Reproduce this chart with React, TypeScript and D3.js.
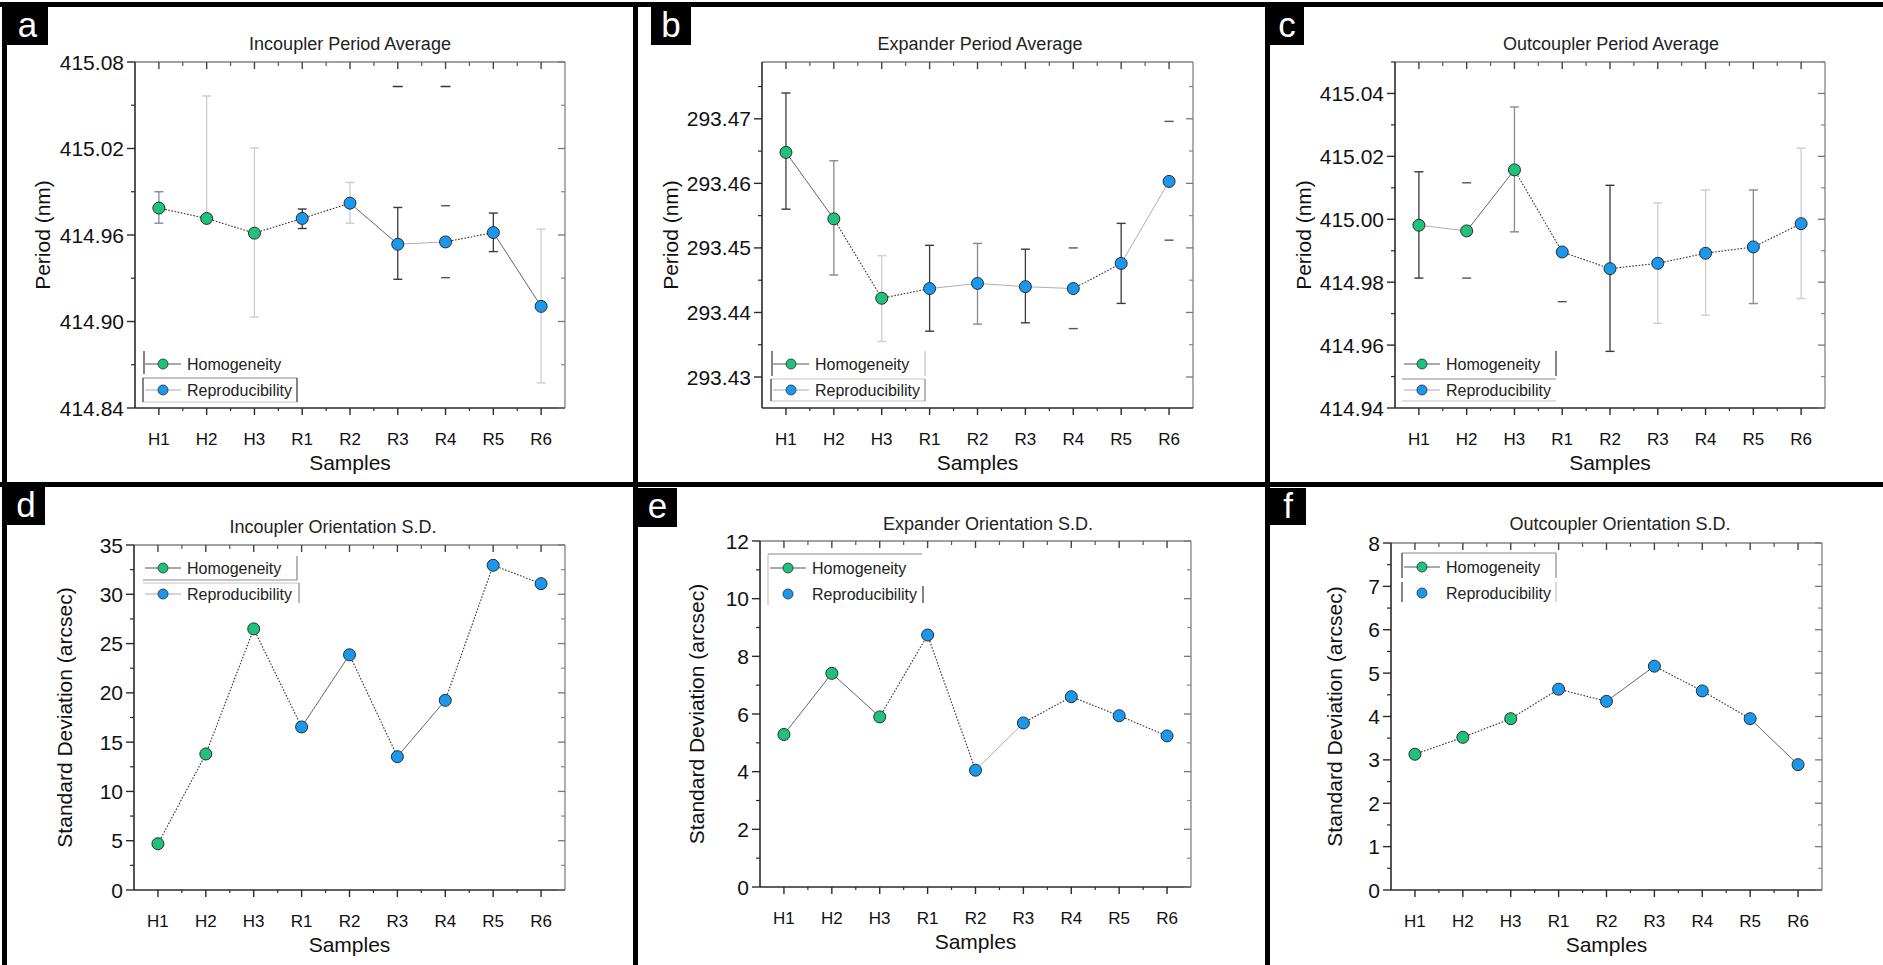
import * as d3 from "d3";
import React from "react";

// ---- data ----
const samples = ["H1", "H2", "H3", "R1", "R2", "R3", "R4", "R5", "R6"];
const groupOf = ["Homogeneity", "Homogeneity", "Homogeneity", "Reproducibility", "Reproducibility",
    "Reproducibility", "Reproducibility", "Reproducibility", "Reproducibility"];
const legendNames = ["Homogeneity", "Reproducibility"];

// a: incoupler period average (nm)
const incouplerPeriod = [414.9787, 414.9715, 414.9613, 414.9715, 414.9821, 414.9536, 414.9552, 414.9617, 414.9105];
const incouplerPeriodHi = [414.9900, 415.0564, 415.0204, 414.9780, 414.9965, 414.9791, 414.9803, 414.9752, 414.9641];
const incouplerPeriodLo = [414.9682, null, 414.9031, 414.9645, 414.9682, 414.9293, 414.9304, 414.9485, 414.8574];
const incouplerPeriodStray = [null, null, null, null, null, 415.063, 415.063, null, null];
const incouplerPeriodTicks = [414.84, 414.90, 414.96, 415.02, 415.08];

// b: expander period average (nm)
const expanderPeriod = [293.4648, 293.4545, 293.4422, 293.4437, 293.4445, 293.4440, 293.4437, 293.4476, 293.4603];
const expanderPeriodHi = [293.4740, 293.4635, 293.4488, 293.4504, 293.4507, 293.4498, 293.4500, 293.4538, 293.4696];
const expanderPeriodLo = [293.4560, 293.4458, 293.4355, 293.4371, 293.4382, 293.4384, 293.4375, 293.4414, 293.4512];
const expanderPeriodTicks = [293.43, 293.44, 293.45, 293.46, 293.47];

// c: outcoupler period average (nm)
const outcouplerPeriod = [414.9981, 414.9963, 415.0157, 414.9896, 414.9843, 414.9860, 414.9892, 414.9912, 414.9986];
const outcouplerPeriodHi = [415.0151, 415.0116, 415.0357, null, 415.0108, 415.0052, 415.0093, 415.0093, 415.0226];
const outcouplerPeriodLo = [414.9813, 414.9813, 414.9960, 414.9738, 414.9580, 414.9669, 414.9695, 414.9732, 414.9748];
const outcouplerPeriodTicks = [414.94, 414.96, 414.98, 415.00, 415.02, 415.04];

// d, e, f: orientation standard deviation (arcsec)
const incouplerSD = [4.69, 13.80, 26.49, 16.54, 23.86, 13.53, 19.24, 32.94, 31.08];
const incouplerSDTicks = [0, 5, 10, 15, 20, 25, 30, 35];
const expanderSD = [5.29, 7.41, 5.90, 8.74, 4.05, 5.69, 6.60, 5.94, 5.24];
const expanderSDTicks = [0, 2, 4, 6, 8, 10, 12];
const outcouplerSD = [3.13, 3.52, 3.95, 4.63, 4.35, 5.16, 4.59, 3.95, 2.89];
const outcouplerSDTicks = [0, 1, 2, 3, 4, 5, 6, 7, 8];

// ---- styles ----
const FONT = "'Liberation Sans', Arial, Helvetica, sans-serif";
const GREEN = "#1fc27c";
const BLUE = "#1a98ee";
const TONE: Record<string, string> = { dark: "#3a3a3a", mid: "#8a8a8a", light: "#cdcdcd", none: "none" };
const SEG: Record<string, { stroke: string; dash?: string; w: number }> = {
    d: { stroke: "#333", dash: "1.6,1.6", w: 1.1 },
    s: { stroke: "#555", w: 0.9 },
    l: { stroke: "#b0b0b0", w: 1 },
};

type Panel = {
    letter: string; badge: [number, number, number, number];
    title: string; titleX: number; titleY: number;
    frame: [number, number, number, number];
    domain: [number, number]; ticks: number[]; minorStep: number; fmt: string;
    yTitle: string; yTitleX: number;
    values: number[]; hi?: (number | null)[]; lo?: (number | null)[];
    tones?: string[]; stray?: (number | null)[];
    segs: string;
    legend: { mx: number; my: number; variant: string; lines: [boolean, boolean] };
};

const panels: Panel[] = [
    {
        letter: "a", badge: [7, 7, 48, 45], title: "Incoupler Period Average", titleX: 350, titleY: 50,
        frame: [135, 62, 565, 408], domain: [414.84, 415.08], ticks: incouplerPeriodTicks, minorStep: 0.03, fmt: ".2f",
        yTitle: "Period (nm)", yTitleX: 43,
        values: incouplerPeriod, hi: incouplerPeriodHi, lo: incouplerPeriodLo, stray: incouplerPeriodStray,
        tones: ["mid", "light", "light", "dark", "light", "dark", "none", "dark", "light"],
        segs: "ddddslds",
        legend: { mx: 163, my: 364, variant: "a", lines: [true, true] },
    },
    {
        letter: "b", badge: [651, 7, 691, 45], title: "Expander Period Average", titleX: 980, titleY: 50,
        frame: [762, 62, 1193, 408], domain: [293.4252, 293.4788], ticks: expanderPeriodTicks, minorStep: 0.005, fmt: ".2f",
        yTitle: "Period (nm)", yTitleX: 671,
        values: expanderPeriod, hi: expanderPeriodHi, lo: expanderPeriodLo,
        tones: ["dark", "mid", "light", "dark", "mid", "dark", "none", "dark", "none"],
        segs: "sddllldl",
        legend: { mx: 791, my: 364, variant: "b", lines: [true, true] },
    },
    {
        letter: "c", badge: [1270, 7, 1304, 45], title: "Outcoupler Period Average", titleX: 1611, titleY: 50,
        frame: [1395, 62, 1825, 408], domain: [414.94, 415.05], ticks: outcouplerPeriodTicks, minorStep: 0.01, fmt: ".2f",
        yTitle: "Period (nm)", yTitleX: 1304,
        values: outcouplerPeriod, hi: outcouplerPeriodHi, lo: outcouplerPeriodLo,
        tones: ["dark", "none", "mid", "none", "dark", "light", "light", "mid", "light"],
        segs: "lsdddddd",
        legend: { mx: 1422, my: 364, variant: "c", lines: [true, true] },
    },
    {
        letter: "d", badge: [7, 487, 45, 525], title: "Incoupler Orientation S.D.", titleX: 333, titleY: 533,
        frame: [134, 545, 565, 890], domain: [0, 35], ticks: incouplerSDTicks, minorStep: 2.5, fmt: "d",
        yTitle: "Standard Deviation (arcsec)", yTitleX: 65,
        values: incouplerSD, segs: "dddsdsdd",
        legend: { mx: 163, my: 568, variant: "d", lines: [true, true] },
    },
    {
        letter: "e", badge: [638, 488, 677, 527], title: "Expander Orientation S.D.", titleX: 988, titleY: 530,
        frame: [760, 541, 1191, 887], domain: [0, 12], ticks: expanderSDTicks, minorStep: 1, fmt: "d",
        yTitle: "Standard Deviation (arcsec)", yTitleX: 697,
        values: expanderSD, segs: "ssddlddd",
        legend: { mx: 788, my: 568, variant: "e", lines: [true, false] },
    },
    {
        letter: "f", badge: [1270, 488, 1306, 525], title: "Outcoupler Orientation S.D.", titleX: 1620, titleY: 530,
        frame: [1391, 543, 1822, 890], domain: [0, 8], ticks: outcouplerSDTicks, minorStep: 0.5, fmt: "d",
        yTitle: "Standard Deviation (arcsec)", yTitleX: 1335,
        values: outcouplerSD, segs: "ddddsdds",
        legend: { mx: 1422, my: 567, variant: "f", lines: [true, false] },
    },
];

// legend frame fragments, the reference has a different broken box in each panel
function legendFrame(variant: string, L: number, R: number, Y: number) {
    const dk = "#333", md = "#888", lt = "#c4c4c4";
    const v: Record<string, [number, number, number, number, string][]> = {
        a: [[L + 1, Y - 13, L + 1, Y + 10, dk], [L, Y + 14, R, Y + 14, md], [L, Y + 38, R, Y + 38, lt],
            [L, Y + 14, L, Y + 38, dk], [R, Y + 14, R, Y + 38, dk]],
        b: [[L + 1, Y - 13, L + 1, Y + 12, dk], [R, Y - 13, R, Y + 12, lt], [L, Y + 15, R, Y + 15, lt],
            [L, Y + 37, R, Y + 37, lt], [L, Y + 15, L, Y + 37, dk], [R, Y + 15, R, Y + 37, md]],
        c: [[R, Y - 13, R, Y + 12, dk], [L, Y + 15, R, Y + 15, md], [L, Y + 37, R, Y + 37, lt]],
        d: [[R, Y - 12, R, Y + 12, md], [L, Y + 12, R, Y + 12, md], [L, Y + 15, R + 2, Y + 15, lt],
            [R + 2, Y + 15, R + 2, Y + 35, md]],
        e: [[L, Y - 14, R, Y - 14, md], [L, Y - 14, L, Y + 37, lt], [R + 1, Y + 18, R + 1, Y + 35, dk]],
        f: [[L, Y - 14, R, Y - 14, md], [L, Y - 14, L, Y + 11, dk], [R, Y - 14, R, Y + 11, md],
            [L, Y + 15, L, Y + 35, dk], [R, Y + 15, R, Y + 35, lt]],
    };
    return v[variant] || [];
}

function PanelChart({ p }: { p: Panel }) {
    const [x0, y0, x1, y1] = p.frame;
    const x = d3.scalePoint<string>().domain(samples).range([x0, x1]).padding(0.5);
    const y = d3.scaleLinear().domain(p.domain).range([y1, y0]);
    const step = x.step();
    const fmt = d3.format(p.fmt);
    const t0 = p.ticks[0];
    const kLo = Math.ceil((p.domain[0] - t0) / p.minorStep - 1e-6);
    const kHi = Math.floor((p.domain[1] - t0) / p.minorStep + 1e-6);
    const minor = d3.range(kLo, kHi + 1).map(k => t0 + k * p.minorStep)
        .filter(v => !p.ticks.some(t => Math.abs(t - v) < p.minorStep / 10));
    const between = d3.range(1, samples.length).map(i => x0 + i * step);
    const pts = p.values.map((v, i) => ({ x: x(samples[i])!, y: y(v), g: groupOf[i] }));
    const colorOf = (g: string) => (g === "Homogeneity" ? GREEN : BLUE);
    const frameDark = "#2a2a2a";
    const { mx, my, variant, lines } = p.legend;
    const L = mx - 20, R = mx + 134;

    return (
        <g fontFamily={FONT}>
            {/* panel badge */}
            <rect x={p.badge[0]} y={p.badge[1]} width={p.badge[2] - p.badge[0]} height={p.badge[3] - p.badge[1]} fill="#000" />
            <text x={(p.badge[0] + p.badge[2]) / 2} y={p.badge[1] + 30} fill="#fff" fontSize={35} textAnchor="middle">{p.letter}</text>

            <text x={p.titleX} y={p.titleY} fontSize={18} fill="#222" textAnchor="middle">{p.title}</text>

            {/* frame */}
            <line x1={x0} y1={y0} x2={x1} y2={y0} stroke="#444" strokeWidth={1.2} />
            <line x1={x1} y1={y0} x2={x1} y2={y1} stroke="#777" strokeWidth={1.2} />
            <line x1={x0} y1={y0} x2={x0} y2={y1} stroke={frameDark} strokeWidth={1.6} />
            <line x1={x0} y1={y1} x2={x1} y2={y1} stroke={frameDark} strokeWidth={1.6} />

            {/* y ticks */}
            {p.ticks.map(t => (
                <g key={"yt" + t}>
                    <line x1={x0 - 8} x2={x0} y1={y(t)} y2={y(t)} stroke={frameDark} strokeWidth={1.4} />
                    <line x1={x1 - 7} x2={x1} y1={y(t)} y2={y(t)} stroke="#777" strokeWidth={1.3} />
                    <text x={x0 - 11} y={y(t)} dy="0.36em" fontSize={21} fill="#111" textAnchor="end">{fmt(t)}</text>
                </g>
            ))}
            {minor.map(t => (
                <g key={"ym" + t}>
                    <line x1={x0 - 4} x2={x0} y1={y(t)} y2={y(t)} stroke={frameDark} strokeWidth={1.2} />
                    <line x1={x1 - 4} x2={x1} y1={y(t)} y2={y(t)} stroke="#888" strokeWidth={1.2} />
                </g>
            ))}

            {/* x ticks */}
            {samples.map(s => (
                <g key={"xt" + s}>
                    <line x1={x(s)} x2={x(s)} y1={y1} y2={y1 + 7} stroke={frameDark} strokeWidth={1.4} />
                    <line x1={x(s)} x2={x(s)} y1={y0} y2={y0 + 7} stroke="#444" strokeWidth={1.4} />
                    <text x={x(s)} y={y1 + 37} fontSize={17} fill="#111" textAnchor="middle">{s}</text>
                </g>
            ))}
            {between.map(bx => (
                <g key={"xm" + bx}>
                    <line x1={bx} x2={bx} y1={y1} y2={y1 + 3} stroke={frameDark} strokeWidth={1.2} />
                    <line x1={bx} x2={bx} y1={y0} y2={y0 + 4} stroke="#555" strokeWidth={1.2} />
                </g>
            ))}

            <text x={(x0 + x1) / 2} y={y1 + 62} fontSize={21} fill="#111" textAnchor="middle">Samples</text>
            <text transform={`translate(${p.yTitleX},${(y0 + y1) / 2}) rotate(-90)`} dy="0.35em"
                fontSize={21} fill="#111" textAnchor="middle">{p.yTitle}</text>

            {/* error bars */}
            {p.hi && p.values.map((v, i) => {
                const cx = pts[i].x;
                const tone = TONE[p.tones ? p.tones[i] : "dark"];
                const capColor = tone === "none" ? "#555" : tone;
                const hi = p.hi![i], lo = p.lo ? p.lo[i] : null;
                const top = hi == null ? y(v) : y(hi);
                const bot = lo == null ? y(v) : y(lo);
                return (
                    <g key={"eb" + i}>
                        {tone !== "none" && <line x1={cx} x2={cx} y1={top} y2={bot} stroke={tone} strokeWidth={1.3} />}
                        {hi != null && <line x1={cx - 4.5} x2={cx + 4.5} y1={top} y2={top} stroke={capColor} strokeWidth={1.4} />}
                        {lo != null && <line x1={cx - 4.5} x2={cx + 4.5} y1={bot} y2={bot} stroke={capColor} strokeWidth={1.4} />}
                        {p.stray && p.stray[i] != null && (
                            <line x1={cx - 5} x2={cx + 5} y1={y(p.stray[i]!)} y2={y(p.stray[i]!)} stroke="#333" strokeWidth={1.5} />
                        )}
                    </g>
                );
            })}

            {/* connecting segments */}
            {pts.slice(1).map((q, i) => {
                const st = SEG[p.segs[i]] || SEG.d;
                return (
                    <line key={"sg" + i} x1={pts[i].x} y1={pts[i].y} x2={q.x} y2={q.y}
                        stroke={st.stroke} strokeWidth={st.w} strokeDasharray={st.dash} />
                );
            })}

            {/* markers */}
            {pts.map((q, i) => (
                <circle key={"pt" + i} cx={q.x} cy={q.y} r={6} fill={colorOf(q.g)} stroke="#2b2b2b" strokeWidth={1} />
            ))}

            {/* legend */}
            {legendFrame(variant, L, R, my).map((s, i) => (
                <line key={"lf" + i} x1={s[0]} y1={s[1]} x2={s[2]} y2={s[3]} stroke={s[4]} strokeWidth={1.2} />
            ))}
            {legendNames.map((name, i) => {
                const ly = my + i * 26;
                return (
                    <g key={"lg" + name}>
                        {lines[i] && <line x1={mx - 18} x2={mx + 18} y1={ly} y2={ly}
                            stroke={i === 0 ? "#555" : "#aaa"} strokeWidth={1.1} />}
                        <circle cx={mx} cy={ly} r={5} fill={colorOf(name)} stroke="#2b2b2b" strokeWidth={0.8} />
                        <text x={mx + 24} y={ly} dy="0.36em" fontSize={16} fill="#222">{name}</text>
                    </g>
                );
            })}
        </g>
    );
}

export default function App() {
    const W = 1883, H = 965;
    return (
        <svg width={W} height={H} style={{ position: "absolute", left: 0, top: 0, background: "#fff" }}>
            <rect x={0} y={0} width={W} height={H} fill="#fff" />
            {panels.map(p => <PanelChart key={p.letter} p={p} />)}
            {/* panel borders */}
            <rect x={0} y={2} width={W} height={5} fill="#000" />
            <rect x={2} y={2} width={5} height={H} fill="#000" />
            <rect x={633} y={2} width={5} height={H} fill="#000" />
            <rect x={1265} y={2} width={5} height={H} fill="#000" />
            <rect x={0} y={482} width={W} height={5} fill="#000" />
        </svg>
    );
}
